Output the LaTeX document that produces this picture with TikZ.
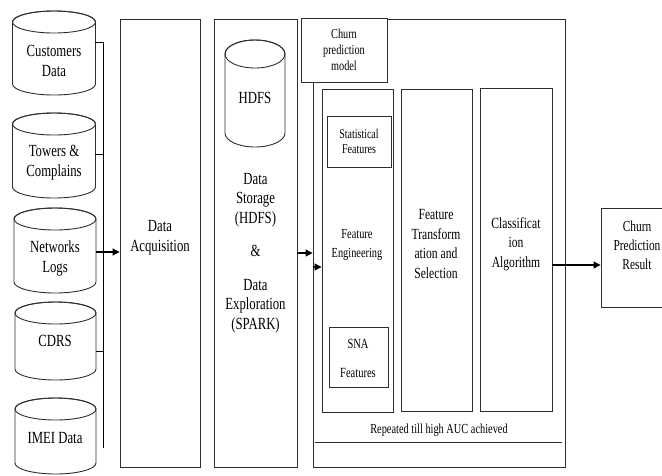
\documentclass[tikz,border=0pt]{standalone}
\usepackage{fontspec}
\setmainfont[FakeStretch=0.75]{Liberation Serif}
\usetikzlibrary{arrows.meta,fit}
\tikzset{
  ln/.style={draw=black!82, line width=0.9pt},
  box/.style={ln, rectangle, inner sep=0pt, fill=white},
  big/.style={align=center, inner sep=0pt, font=\fontsize{17}{20}\selectfont},
  mid/.style={align=center, inner sep=0pt, font=\fontsize{15.5}{19.5}\selectfont},
  sml/.style={align=center, inner sep=0pt, font=\fontsize{13.7}{16}\selectfont},
  arr/.style={draw=black, line width=1.1pt, -{Triangle[length=7pt,width=7pt]}},
}
% cylinder outline: cx, top, bottom, rx, ry
\newcommand\cylbody[5]{%
  \draw[ln, fill=white] (#1-#4,#2+#5) -- (#1-#4,#3-#5)
    arc[start angle=180, end angle=360, x radius=#4pt, y radius=#5pt]
    -- (#1+#4,#2+#5)
    arc[start angle=0, end angle=180, x radius=#4pt, y radius=#5pt] -- cycle;
  \draw[ln] (#1,#2+#5) ellipse[x radius=#4pt, y radius=#5pt];
}
\begin{document}
\begin{tikzpicture}[x=1pt, y=-1pt]
\useasboundingbox (0,0) rectangle (662,475);

% ---- source cylinders ----
\cylbody{54}{11}{95}{41.5}{11}
\node[inner sep=0pt, fit={(12,11) (95,95)}] (cust) {};
\node[big] (custT) at (54,61) {Customers\\Data};

\cylbody{54}{113}{198}{41.5}{11}
\node[inner sep=0pt, fit={(12,113) (95,198)}] (tow) {};
\node[big] (towT) at (54,163) {Towers \&\\Complains};

\cylbody{55}{208}{293}{41}{11}
\node[inner sep=0pt, fit={(14,208) (96,293)}] (net) {};
\node[big] (netT) at (55,258) {Networks\\Logs};

\cylbody{55.5}{302}{380}{40.5}{11}
\node[inner sep=0pt, fit={(15,302) (96,380)}] (cdr) {};
\node[big] (cdrT) at (55,341) {CDRS};

\cylbody{55.5}{398}{474}{40.5}{11}
\node[inner sep=0pt, fit={(15,398) (96,474)}] (imei) {};
\node[big] (imeiT) at (55,438) {IMEI Data};

% ---- bus ----
\coordinate (busTop) at (103,42);
\coordinate (busBot) at (103,448);
\draw[ln, draw=black] (busTop) -- (busBot);
\draw[ln, draw=black] (cust.east |- busTop) -- (busTop);
\draw[ln, draw=black] (tow.east |- 0,154) -- (103,154);
\draw[ln, draw=black] (cdr.east |- 0,351) -- (103,351);

% ---- Data Acquisition ----
\node[box, fit={(120,19) (200,467)}] (acq) {};
\node[big] (acqT) at (160,238) {Data\\Acquisition};
\draw[arr] (net.east |- 0,252) -- (acq.west |- 0,252);

% ---- Data storage ----
\node[box, fit={(214,19) (297,467)}] (store) {};
\cylbody{255}{40}{147}{30}{14}
\node[inner sep=0pt, fit={(225,40) (285,147)}] (hdfs) {};
\node[big] (hdfsT) at (255,98) {HDFS};
\node[big, font=\fontsize{17}{19.5}\selectfont] (storeT) at (255.5,253)
  {Data\\Storage\\(HDFS)\\[14pt]\&\\[14pt]Data\\Exploration\\(SPARK)};

% ---- churn prediction model ----
\node[box, fit={(313,19) (565,467)}] (bigbox) {};
\node[box, fit={(301,18) (387,82)}] (model) {};
\node[sml] (modelT) at (344,50) {Churn\\prediction\\model};
\draw[arr] (store.east |- 0,253) -- (bigbox.west |- 0,253);

\node[box, fit={(322,89) (393,412)}] (fe) {};
\node[box, fit={(327,116) (391,167)}] (stat) {};
\node[sml, font=\fontsize{13.3}{15}\selectfont] (statT) at (359,141) {Statistical\\Features};
\node[sml, font=\fontsize{13.8}{18.5}\selectfont] (feT) at (357,245) {Feature\\Engineering};
\node[box, fit={(329,327) (388,387)}] (sna) {};
\node[sml, font=\fontsize{14}{29}\selectfont] (snaT) at (358,358) {SNA\\Features};
\draw[arr] (bigbox.west |- 0,267) -- (fe.west |- 0,267);

\node[box, fit={(401,89) (472,411)}] (ft) {};
\node[mid] (ftT) at (436,244) {Feature\\Transform\\ation and\\Selection};

\node[box, fit={(480,88) (552,411)}] (cls) {};
\node[mid] (clsT) at (516,244) {Classificat\\ion\\Algorithm};

\node[sml, font=\fontsize{13.8}{15}\selectfont] (rep) at (439,430) {Repeated till high AUC achieved};
\coordinate (repL) at (315,442);
\coordinate (repR) at (562,442);
\draw[ln] (repL) -- (repR);

% ---- result ----
\node[box, fit={(601,208) (670,307)}] (res) {};
\node[mid, font=\fontsize{15.2}{19}\selectfont] (resT) at (637,245) {Churn\\Prediction\\Result};
\draw[arr] (cls.east |- 0,265) -- (res.west |- 0,265);
\end{tikzpicture}
\end{document}
